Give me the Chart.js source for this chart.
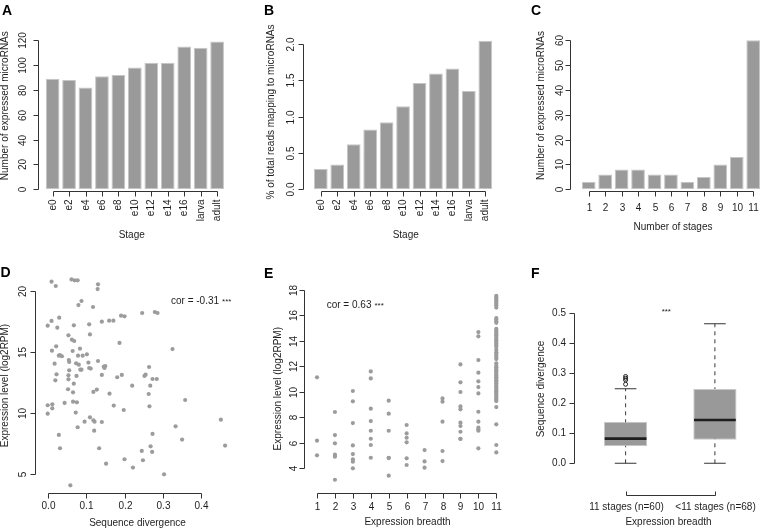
<!DOCTYPE html>
<html>
<head>
<meta charset="utf-8">
<title>microRNA expression across development</title>
<script src="https://cdn.jsdelivr.net/npm/chart.js@4.4.1/dist/chart.umd.min.js"></script>
<style>
html, body { margin:0; padding:0; background:#ffffff; }
#fig { position:relative; width:762px; height:531px; overflow:hidden; background:#ffffff; }
#fig canvas { position:absolute; left:0; top:0; }
</style>
</head>
<body>
<div id="fig">
<canvas id="pA" width="762" height="531"></canvas>
<canvas id="pB" width="762" height="531"></canvas>
<canvas id="pC" width="762" height="531"></canvas>
<canvas id="pD" width="762" height="531"></canvas>
<canvas id="pE" width="762" height="531"></canvas>
<canvas id="pF" width="762" height="531"></canvas>
</div>
<script>
// ---------------- DATA ----------------
const stages = ['e0','e2','e4','e6','e8','e10','e12','e14','e16','larva','adult'];
const expressedPerStage = [89, 88, 82, 91, 92, 98, 102, 102, 115, 114, 119];
const pctReadsMiRNA = [0.28, 0.34, 0.62, 0.82, 0.92, 1.14, 1.46, 1.59, 1.66, 1.35, 2.04];
const stageCounts = ['1','2','3','4','5','6','7','8','9','10','11'];
const miRNAsByStageCount = [3, 6, 8, 8, 6, 6, 3, 5, 10, 13, 60];

const yTicksA = [0, 20, 40, 60, 80, 100, 120];
const yLabelsA = ['0','20','40','60','80','100','120'];
const yTicksB = [0, 0.5, 1, 1.5, 2];
const yLabelsB = ['0.0','0.5','1.0','1.5','2.0'];
const yTicksC = [0, 10, 20, 30, 40, 50, 60];
const yLabelsC = ['0','10','20','30','40','50','60'];

const divergenceD = [0.010,0.021,0.062,0.070,0.078,0.131,0.130,0.088,0.080,0.118,
0.000,0.010,0.030,0.025,0.068,0.108,0.110,0.141,0.160,0.171,
0.191,0.200,0.246,0.279,0.286,0.054,0.063,0.069,0.084,0.011,
0.022,0.029,0.032,0.037,0.018,0.065,0.079,0.091,0.102,0.074,
0.081,0.055,0.056,0.106,0.131,0.187,0.023,0.020,0.056,0.054,
0.054,0.075,0.085,0.088,0.108,0.112,0.141,0.146,0.150,0.148,
0.068,0.053,0.066,0.128,0.119,0.181,0.193,0.161,0.220,0.252,
0.255,0.264,0.267,0.263,0.273,0.284,0.325,0.358,0.265,0.172,
0.198,0.000,0.012,0.012,0.000,0.044,0.066,0.076,0.073,0.110,
0.119,0.122,0.096,0.141,0.121,0.078,0.029,0.032,0.134,0.333,
0.451,0.273,0.350,0.245,0.268,0.272,0.462,0.200,0.248,0.152,
0.222,0.303,0.059];
const levelD = [20.76,20.41,20.95,20.87,20.87,20.55,20.16,19.18,18.85,18.69,
17.16,17.55,17.82,17.00,17.19,17.27,16.45,17.49,17.57,17.57,
17.98,17.93,18.20,18.28,18.20,16.37,16.02,15.91,15.28,15.12,
15.47,14.71,14.76,14.66,14.05,15.09,14.71,14.71,14.82,14.08,
13.97,14.35,14.19,14.14,14.27,15.75,13.18,12.69,13.51,13.10,
12.77,13.05,13.56,13.56,13.70,13.65,13.13,13.81,13.86,13.70,
12.42,11.96,11.71,11.93,11.74,12.94,13.13,11.60,12.25,13.05,
13.15,13.78,12.25,11.57,12.80,12.80,15.25,11.08,10.56,10.62,
10.26,10.65,10.73,10.40,9.96,10.84,10.94,10.89,10.05,9.66,
9.42,9.31,9.31,9.28,8.57,8.85,8.22,7.13,7.13,8.93,
9.47,8.30,7.84,6.91,7.29,6.83,7.35,6.23,6.15,5.87,
5.55,5.00,4.10];
const xTicksD = [0, 0.1, 0.2, 0.3, 0.4];
const xLabelsD = ['0.0','0.1','0.2','0.3','0.4'];
const yTicksD = [5, 10, 15, 20];
const yLabelsD = ['5','10','15','20'];

const breadthValues = [1, 2, 3, 4, 5, 6, 7, 8, 9, 10, 11];
const levelsByBreadth = [
  [11.14, 6.17, 5.02],
  [8.42, 6.61, 5.96, 5.07, 4.91, 3.10],
  [10.07, 9.26, 7.55, 5.80, 5.12, 4.70, 4.52, 4.00],
  [11.61, 11.06, 8.68, 7.71, 6.95, 6.32, 5.83, 4.83],
  [9.31, 8.29, 6.95, 4.83, 4.80, 3.42],
  [7.40, 6.74, 6.40, 6.04, 4.78, 4.26],
  [5.43, 4.54, 4.05],
  [9.49, 9.23, 7.66, 5.36, 4.57],
  [12.16, 10.75, 9.99, 8.86, 8.63, 7.58, 7.32, 6.87, 6.32, 6.30],
  [14.70, 14.36, 12.50, 11.51, 10.83, 10.38, 9.88, 8.44, 7.66, 7.19, 6.95, 7.05, 5.57],
  [17.55, 17.42, 17.30, 17.18, 17.05, 16.92, 16.80, 16.62, 15.80, 15.68, 15.55, 15.42,
   14.95, 14.82, 14.70, 14.58, 14.45, 14.30, 14.18, 14.05, 13.92, 13.80, 13.66, 13.52,
   13.30, 13.12, 13.00, 12.86, 12.70, 12.58, 12.25, 12.05, 11.93, 11.82, 11.70, 11.60,
   11.48, 11.36, 11.25, 11.14, 11.03, 10.92, 10.80, 10.68, 10.56, 10.42, 10.30, 10.18,
   10.05, 9.95, 9.84, 9.72, 9.60, 9.48, 9.36, 9.28, 8.81, 7.45, 5.83, 5.25]
];
const yTicksE = [4, 6, 8, 10, 12, 14, 16, 18];
const yLabelsE = ['4','6','8','10','12','14','16','18'];

const breadthGroups = ['11 stages (n=60)', '<11 stages (n=68)'];
const boxQ1 = [0.057, 0.078];
const boxMedian = [0.082, 0.144];
const boxQ3 = [0.138, 0.247];
const whiskerLow = [0.0, 0.0];
const whiskerHigh = [0.248, 0.464];
const outliersGroup1 = [0.263, 0.277, 0.283, 0.289];
const yTicksF = [0, 0.1, 0.2, 0.3, 0.4, 0.5];
const yLabelsF = ['0.0','0.1','0.2','0.3','0.4','0.5'];

// ---------------- STYLE / LAYOUT ----------------
const W = 762, H = 531;
const FONT_FAMILY = '"Liberation Sans", Arial, Helvetica, sans-serif';
const INK = '#1e1e1e';
const AXIS = '#333333';
const BAR_FILL = '#9a9a9a';
const BAR_EDGE = '#c6c6c6';
const DOT = '#9c9c9c';

function lin(v0, p0, v1, p1, v) { return p0 + (v - v0) * (p1 - p0) / (v1 - v0); }
function catEdges(c0, cN, n) { const w = (cN - c0) / (n - 1); return [c0 - w / 2, cN + w / 2]; }
function pad(l, t, r, b) { return { left: l, top: t, right: W - r, bottom: H - b }; }

function baseOptions(padding, xs, ys) {
  return {
    responsive: false, animation: false, devicePixelRatio: 1, events: [],
    layout: { padding: padding, autoPadding: false },
    plugins: { legend: { display: false }, tooltip: { enabled: false } },
    scales: {
      x: Object.assign({ display: false, grid: { display: false } }, xs),
      y: Object.assign({ display: false, grid: { display: false } }, ys)
    }
  };
}

function drawText(ctx, text, x, y, opt) {
  ctx.save();
  ctx.font = (opt.weight || 'normal') + ' ' + (opt.size || 10) + 'px ' + FONT_FAMILY;
  ctx.fillStyle = opt.color || INK;
  ctx.translate(x, y);
  if (opt.rotate) ctx.rotate(-Math.PI / 2);
  ctx.textAlign = opt.align || 'center';
  ctx.textBaseline = opt.baseline || 'middle';
  ctx.fillText(text, 0, 0);
  ctx.restore();
}

const panelDecor = {};

const rStyleAxes = {
  id: 'rStyleAxes',
  afterDraw(chart) {
    const d = panelDecor[chart.canvas.id];
    if (!d) return;
    const ctx = chart.ctx;
    const xs = chart.scales.x, ys = chart.scales.y;
    ctx.save();
    ctx.strokeStyle = AXIS; ctx.lineWidth = 1;
    // y axis
    const ya = d.yAxis;
    const yp = ya.ticks.map(v => Math.round(ys.getPixelForValue(v)) + 0.5);
    ctx.beginPath();
    ctx.moveTo(ya.x, Math.min(...yp)); ctx.lineTo(ya.x, Math.max(...yp));
    yp.forEach(p => { ctx.moveTo(ya.x, p); ctx.lineTo(ya.x - ya.tickLen, p); });
    ctx.stroke();
    yp.forEach((p, i) => drawText(ctx, ya.labels[i], ya.labelX, p,
      ya.rotate ? { rotate: true } : { align: 'right' }));
    // x axis
    const xa = d.xAxis;
    const xp = xa.ticks.map(v => Math.round(xs.getPixelForValue(v)) + 0.5);
    ctx.beginPath();
    ctx.moveTo(Math.min(...xp), xa.y); ctx.lineTo(Math.max(...xp), xa.y);
    xp.forEach(p => { ctx.moveTo(p, xa.y); ctx.lineTo(p, xa.y + xa.tickLen); });
    ctx.stroke();
    xp.forEach((p, i) => {
      if (xa.rotate) drawText(ctx, xa.labels[i], p, xa.labelY, { rotate: true, align: 'right' });
      else drawText(ctx, xa.labels[i], p, xa.labelY, {});
    });
    // titles & letter
    drawText(ctx, d.xTitle.text, d.xTitle.x, d.xTitle.y, {});
    drawText(ctx, d.yTitle.text, d.yTitle.x, d.yTitle.y, { rotate: true });
    drawText(ctx, d.letter.text, d.letter.x, d.letter.y,
      { weight: 'bold', size: 14, align: 'left', baseline: 'alphabetic', color: '#000' });
    (d.notes || []).forEach(n => {
      ctx.save();
      ctx.font = (n.size || 10) + 'px ' + FONT_FAMILY;
      const w = ctx.measureText(n.text).width;
      ctx.restore();
      const x0 = n.align === 'center' ? n.x - w / 2 : n.x;
      drawText(ctx, n.text, x0, n.y, { size: n.size || 10, align: 'left', baseline: 'alphabetic' });
      if (n.sup) drawText(ctx, n.sup, n.text ? x0 + w + 3 : x0, n.y, { size: 8, align: n.text ? 'left' : 'center', baseline: 'alphabetic' });
    });
    ctx.restore();
  }
};

// ---------------- PANEL A ----------------
(function () {
  const [l, r] = catEdges(52.6, 217.1, stages.length);
  const top = lin(0, 189.3, 120, 40.3, 125), bot = 189.3;
  panelDecor.pA = {
    letter: { text: 'A', x: 2, y: 15 },
    yAxis: { x: 38.5, ticks: yTicksA, labels: yLabelsA, rotate: true, labelX: 23, tickLen: 5 },
    xAxis: { y: 191.5, ticks: stages.map((s, i) => i), labels: stages, rotate: true, labelY: 199.5, tickLen: 5 },
    yTitle: { text: 'Number of expressed microRNAs', x: 5.5, y: 105.7 },
    xTitle: { text: 'Stage', x: 131.7, y: 235 }
  };
  new Chart(document.getElementById('pA'), {
    type: 'bar',
    data: { labels: stages, datasets: [{ data: expressedPerStage, backgroundColor: BAR_FILL, borderColor: BAR_EDGE,
      borderWidth: 1, borderSkipped: false, barPercentage: 0.833, categoryPercentage: 1 }] },
    options: baseOptions(pad(l, top, r, bot), { type: 'category', offset: true }, { min: 0, max: 125 }),
    plugins: [rStyleAxes]
  });
})();

// ---------------- PANEL B ----------------
(function () {
  const [l, r] = catEdges(320.8, 485.3, stages.length);
  const top = lin(0, 189.3, 2, 43.7, 2.15), bot = 189.3;
  panelDecor.pB = {
    letter: { text: 'B', x: 264, y: 15 },
    yAxis: { x: 303.5, ticks: yTicksB, labels: yLabelsB, rotate: true, labelX: 291.5, tickLen: 5 },
    xAxis: { y: 191.5, ticks: stages.map((s, i) => i), labels: stages, rotate: true, labelY: 199.5, tickLen: 5 },
    yTitle: { text: '% of total reads mapping to microRNAs', x: 271, y: 112 },
    xTitle: { text: 'Stage', x: 405.7, y: 235 }
  };
  new Chart(document.getElementById('pB'), {
    type: 'bar',
    data: { labels: stages, datasets: [{ data: pctReadsMiRNA, backgroundColor: BAR_FILL, borderColor: BAR_EDGE,
      borderWidth: 1, borderSkipped: false, barPercentage: 0.833, categoryPercentage: 1 }] },
    options: baseOptions(pad(l, top, r, bot), { type: 'category', offset: true }, { min: 0, max: 2.15 }),
    plugins: [rStyleAxes]
  });
})();

// ---------------- PANEL C ----------------
(function () {
  const [l, r] = catEdges(588.7, 753.2, stageCounts.length);
  const top = lin(0, 189.3, 60, 40.3, 62), bot = 189.3;
  panelDecor.pC = {
    letter: { text: 'C', x: 531, y: 15 },
    yAxis: { x: 570.5, ticks: yTicksC, labels: yLabelsC, rotate: true, labelX: 560, tickLen: 5 },
    xAxis: { y: 191.5, ticks: stageCounts.map((s, i) => i), labels: stageCounts, rotate: false, labelY: 208.5, tickLen: 5 },
    yTitle: { text: 'Number of expressed microRNAs', x: 541, y: 105.5 },
    xTitle: { text: 'Number of stages', x: 673, y: 226.8 }
  };
  new Chart(document.getElementById('pC'), {
    type: 'bar',
    data: { labels: stageCounts, datasets: [{ data: miRNAsByStageCount, backgroundColor: BAR_FILL, borderColor: BAR_EDGE,
      borderWidth: 1, borderSkipped: false, barPercentage: 0.833, categoryPercentage: 1 }] },
    options: baseOptions(pad(l, top, r, bot), { type: 'category', offset: true }, { min: 0, max: 62 }),
    plugins: [rStyleAxes]
  });
})();

// ---------------- PANEL D ----------------
(function () {
  const l = lin(0, 47.7, 0.4, 201.3, -0.03), r = lin(0, 47.7, 0.4, 201.3, 0.48);
  const top = lin(5, 474.3, 20, 291, 21.6), bot = lin(5, 474.3, 20, 291, 3.5);
  panelDecor.pD = {
    letter: { text: 'D', x: 0.5, y: 277 },
    yAxis: { x: 35.5, ticks: yTicksD, labels: yLabelsD, rotate: true, labelX: 23.3, tickLen: 5 },
    xAxis: { y: 493.5, ticks: xTicksD, labels: xLabelsD, rotate: false, labelY: 506.3, tickLen: 5 },
    yTitle: { text: 'Expression level (log2RPM)', x: 5.5, y: 385.5 },
    xTitle: { text: 'Sequence divergence', x: 137.5, y: 523 },
    notes: [{ text: 'cor = -0.31', sup: '***', x: 171, y: 303.5 }]
  };
  new Chart(document.getElementById('pD'), {
    type: 'scatter',
    data: { datasets: [{ data: divergenceD.map((x, i) => ({ x: x, y: levelD[i] })),
      backgroundColor: DOT, borderWidth: 0, pointRadius: 2.1 }] },
    options: baseOptions(pad(l, top, r, bot), { type: 'linear', min: -0.03, max: 0.48 }, { type: 'linear', min: 3.5, max: 21.6 }),
    plugins: [rStyleAxes]
  });
})();

// ---------------- PANEL E ----------------
(function () {
  const l = lin(1, 317, 11, 496.3, 0.5), r = lin(1, 317, 11, 496.3, 11.5);
  const top = lin(4, 468.3, 18, 290, 18.3), bot = lin(4, 468.3, 18, 290, 2.6);
  panelDecor.pE = {
    letter: { text: 'E', x: 264, y: 277.7 },
    yAxis: { x: 304.5, ticks: yTicksE, labels: yLabelsE, rotate: true, labelX: 294.5, tickLen: 5 },
    xAxis: { y: 493.5, ticks: breadthValues, labels: breadthValues.map(String), rotate: false, labelY: 507, tickLen: 5 },
    yTitle: { text: 'Expression level (log2RPM)', x: 278.5, y: 388.7 },
    xTitle: { text: 'Expression breadth', x: 407.5, y: 522.5 },
    notes: [{ text: 'cor = 0.63', sup: '***', x: 326.7, y: 308.3 }]
  };
  const pts = [];
  breadthValues.forEach((b, i) => levelsByBreadth[i].forEach(v => pts.push({ x: b, y: v })));
  new Chart(document.getElementById('pE'), {
    type: 'scatter',
    data: { datasets: [{ data: pts, backgroundColor: DOT, borderWidth: 0, pointRadius: 2.1 }] },
    options: baseOptions(pad(l, top, r, bot), { type: 'linear', min: 0.5, max: 11.5 }, { type: 'linear', min: 2.6, max: 18.3 }),
    plugins: [rStyleAxes]
  });
})();

// ---------------- PANEL F ----------------
(function () {
  const [l, r] = catEdges(625.6, 714.9, breadthGroups.length);
  const top = lin(0, 463.3, 0.5, 313, 0.52), bot = lin(0, 463.3, 0.5, 313, -0.02);
  panelDecor.pF = {
    letter: { text: 'F', x: 531, y: 277.7 },
    yAxis: { x: 574.5, ticks: yTicksF, labels: yLabelsF, rotate: false, labelX: 566, tickLen: 5 },
    xAxis: { y: 495.5, ticks: [0, 1], labels: breadthGroups, rotate: false, labelY: 507.5, tickLen: -4 },
    yTitle: { text: 'Sequence divergence', x: 541, y: 389 },
    xTitle: { text: 'Expression breadth', x: 668.5, y: 522.5 },
    notes: [{ text: '', sup: '***', x: 666.3, y: 313.8 }]
  };
  const medHalf = 0.0045, capHalf = 0.0018;
  const datasets = [];
  breadthGroups.forEach((g, i) => datasets.push({
    type: 'line', data: [{ x: g, y: whiskerLow[i] }, { x: g, y: whiskerHigh[i] }],
    borderColor: '#3a3a3a', borderWidth: 1, borderDash: [4, 4], pointRadius: 0, order: 3
  }));
  datasets.push({ type: 'bar', data: breadthGroups.map((g, i) => [boxQ1[i], boxQ3[i]]),
    backgroundColor: '#999999', borderColor: '#c9c9c9', borderWidth: 1, borderSkipped: false,
    barPercentage: 0.484, categoryPercentage: 1, grouped: false, order: 2 });
  datasets.push({ type: 'bar', data: boxMedian.map(m => [m - medHalf, m + medHalf]),
    backgroundColor: '#1e1e1e', borderWidth: 0, barPercentage: 0.468, categoryPercentage: 1, grouped: false, order: 1 });
  datasets.push({ type: 'bar', data: whiskerLow.map(v => [v - capHalf, v + capHalf]),
    backgroundColor: '#333333', borderWidth: 0, barPercentage: 0.242, categoryPercentage: 1, grouped: false, order: 1 });
  datasets.push({ type: 'bar', data: whiskerHigh.map(v => [v - capHalf, v + capHalf]),
    backgroundColor: '#333333', borderWidth: 0, barPercentage: 0.242, categoryPercentage: 1, grouped: false, order: 1 });
  datasets.push({ type: 'line', data: outliersGroup1.map(v => ({ x: breadthGroups[0], y: v })),
    showLine: false, pointRadius: 2, pointBorderWidth: 1, pointBorderColor: '#222222',
    pointBackgroundColor: 'rgba(0,0,0,0)', order: 0 });
  new Chart(document.getElementById('pF'), {
    type: 'bar',
    data: { labels: breadthGroups, datasets: datasets },
    options: baseOptions(pad(l, top, r, bot), { type: 'category', offset: true }, { min: -0.02, max: 0.52 }),
    plugins: [rStyleAxes]
  });
})();
</script>
</body>
</html>
